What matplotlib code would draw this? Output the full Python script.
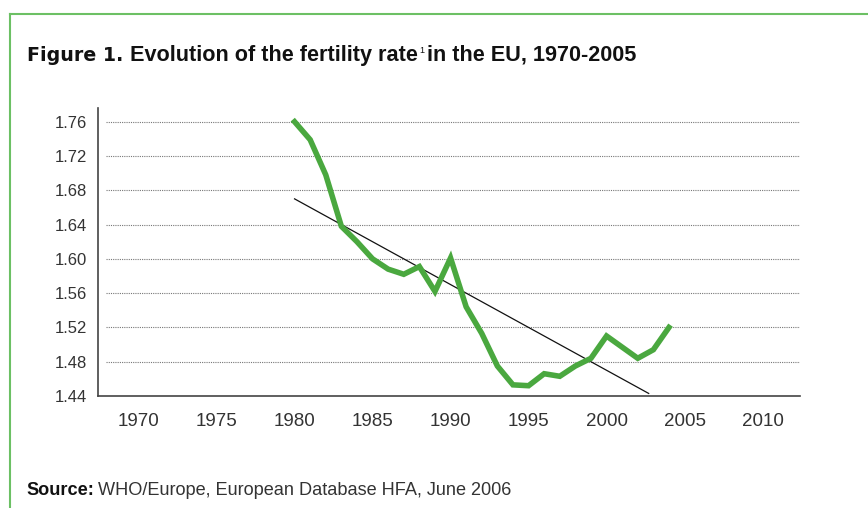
import numpy as np
import matplotlib
matplotlib.use("Agg")
import matplotlib.pyplot as plt
from matplotlib.lines import Line2D

# Données
years = [1980, 1981, 1982, 1983, 1984, 1985, 1986, 1987, 1988, 1989,
         1990, 1991, 1992, 1993, 1994, 1995, 1996, 1997, 1998, 1999,
         2000, 2001, 2002, 2003, 2004]
fertility = [1.760, 1.739, 1.698, 1.638, 1.620, 1.600, 1.588, 1.582, 1.591, 1.562,
             1.601, 1.544, 1.513, 1.475, 1.453, 1.452, 1.466, 1.463, 1.475, 1.484,
             1.510, 1.497, 1.484, 1.494, 1.520]
trend_years = [1980, 2002.7]
trend_values = [1.670, 1.443]
x_ticks = [1970, 1975, 1980, 1985, 1990, 1995, 2000, 2005, 2010]
y_ticks = [1.44, 1.48, 1.52, 1.56, 1.60, 1.64, 1.68, 1.72, 1.76]

GREEN = "#4aa83f"
TEXT = "#333333"

plt.rcParams['font.family'] = ['Liberation Sans', 'DejaVu Sans']

fig = plt.figure(figsize=(8.68, 5.08), dpi=100)
ax = fig.add_axes([98 / 868, 1 - 396 / 508, (800 - 98) / 868, (396 - 108) / 508])

# Quadrillage pointillé
ax.hlines(y_ticks[1:], 1967.9, 2012.4, colors="#777777", linestyles=(0, (1, 1)),
          linewidth=0.8, zorder=1)

ax.plot(trend_years, trend_values, color="#111111", linewidth=0.9, zorder=2)
ax.plot(years, fertility, color=GREEN, linewidth=4.0, solid_joinstyle="miter", zorder=3)

ax.set_xlim(1967.4, 2012.4)
ax.set_ylim(1.44, 1.776)
ax.set_xticks(x_ticks)
ax.set_yticks(y_ticks)
ax.set_yticklabels([f"{v:.2f}" for v in y_ticks])
ax.tick_params(length=0, colors=TEXT)
ax.tick_params(axis="x", pad=12, labelsize=13.5)
ax.tick_params(axis="y", pad=8, labelsize=12)

for side in ("top", "right"):
    ax.spines[side].set_visible(False)
for side in ("left", "bottom"):
    ax.spines[side].set_color("#444444")
    ax.spines[side].set_linewidth(1.2)

# Cadre vert (haut et gauche)
fig.add_artist(Line2D([9.5 / 868, 1.0], [1 - 14 / 508, 1 - 14 / 508],
                      transform=fig.transFigure, color="#6cc064", linewidth=1.5))
fig.add_artist(Line2D([9.5 / 868, 9.5 / 868], [0.0, 1 - 14 / 508],
                      transform=fig.transFigure, color="#6cc064", linewidth=1.5))

# Titre
t1 = fig.text(27 / 868, 1 - 61 / 508, "Figure 1.", fontsize=13.7, fontweight="bold",
              family=["DejaVu Sans"], color="#111111", va="baseline")
fig.canvas.draw()
bb = t1.get_window_extent()
t2 = fig.text((bb.x1 + 7) / 868, 1 - 61 / 508, "Evolution of the fertility rate",
              fontsize=15.6, fontweight="bold", color="#111111", va="baseline")
fig.canvas.draw()
bb = t2.get_window_extent()
t3 = fig.text((bb.x1 + 1) / 868, 1 - 53 / 508, "1", fontsize=6.5, color="#111111",
              va="baseline")
fig.canvas.draw()
bb = t3.get_window_extent()
fig.text((bb.x1 + 3) / 868, 1 - 61 / 508, "in the EU, 1970-2005",
         fontsize=15.6, fontweight="bold", color="#111111", va="baseline")

# Source
s1 = fig.text(26 / 868, 1 - 495 / 508, "Source:", fontsize=13.1, fontweight="bold",
              color="#111111", va="baseline")
fig.canvas.draw()
bb = s1.get_window_extent()
fig.text((bb.x1 + 4) / 868, 1 - 495 / 508, "WHO/Europe, European Database HFA, June 2006",
         fontsize=13.1, color=TEXT, va="baseline")

fig.savefig("out.png", dpi=100, facecolor="white")
plt.close(fig)
